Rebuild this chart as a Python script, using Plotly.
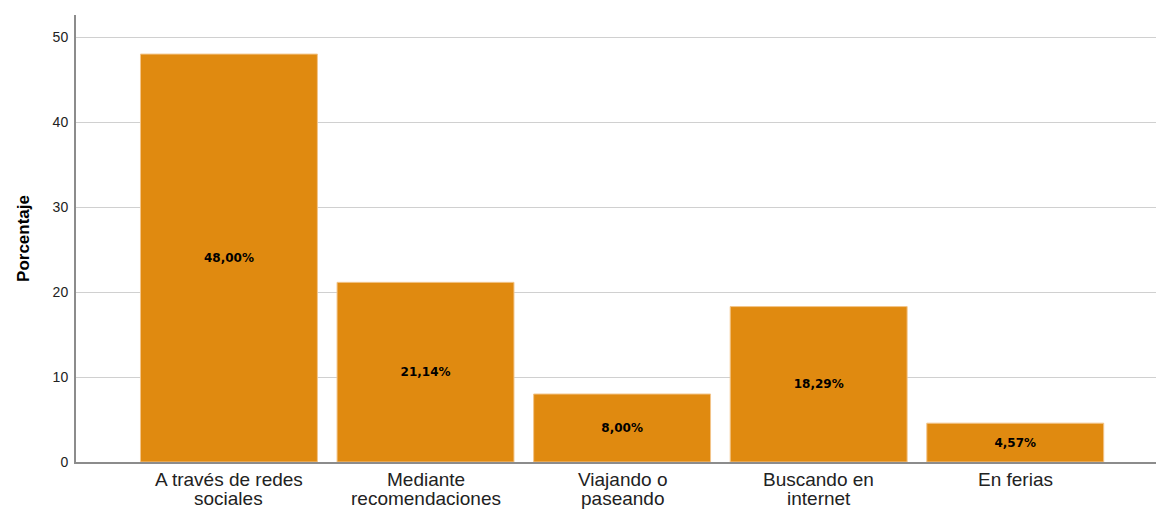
import plotly.graph_objects as go

# data
linea1 = ["A través de redes", "Mediante", "Viajando o", "Buscando en", "En ferias"]
linea2 = ["sociales", "recomendaciones", "paseando", "internet", ""]
porcentajes = [48.00, 21.14, 8.00, 18.29, 4.57]
etiquetas = ["48,00%", "21,14%", "8,00%", "18,29%", "4,57%"]
y_ticks = [0, 10, 20, 30, 40, 50]

pos = list(range(len(linea1)))

fig = go.Figure()
fig.add_trace(go.Bar(
    x=pos,
    y=porcentajes,
    text=etiquetas,
    textposition="inside",
    insidetextanchor="middle",
    textangle=0,
    textfont=dict(family="DejaVu Sans", size=12, color="black", weight="bold"),
    marker=dict(color="#E08A10", line=dict(color="#F3C58A", width=1)),
    width=0.9,
    hoverinfo="skip",
))

# category labels, two tight lines under each bar
lab_font = dict(family="Liberation Sans", size=19, color="#222")
for i in pos:
    fig.add_annotation(x=i, y=0, xref="x", yref="paper", text=linea1[i],
                       showarrow=False, yanchor="top", yshift=-6, font=lab_font,
                       borderpad=0)
    if linea2[i]:
        fig.add_annotation(x=i, y=0, xref="x", yref="paper", text=linea2[i],
                           showarrow=False, yanchor="top", yshift=-25, font=lab_font,
                           borderpad=0)

fig.update_layout(
    width=1156, height=509,
    margin=dict(l=76, r=0, t=15, b=47),
    paper_bgcolor="white", plot_bgcolor="white",
    showlegend=False,
    font=dict(family="Liberation Sans", color="#222"),
)
fig.update_xaxes(
    range=[-0.778, 4.716],
    showticklabels=False,
    showgrid=False, zeroline=False,
    showline=True, linecolor="#8c8c8c", linewidth=2,
    ticks="", automargin=False,
)
fig.update_yaxes(
    range=[0, 52.6],
    tickvals=y_ticks,
    tickfont=dict(size=14, color="#222"),
    showgrid=True, gridcolor="#d0d0d0", gridwidth=1,
    zeroline=False,
    showline=True, linecolor="#8c8c8c", linewidth=2,
    ticks="", ticklabelstandoff=3,
    automargin=False,
    title=dict(text="<b>Porcentaje</b>", font=dict(size=17, color="black",
               family="Liberation Sans"), standoff=19),
)

fig.write_html("out.html", config={"displayModeBar": False},
               post_script="document.body.style.margin='0px';document.body.style.overflow='hidden';")
